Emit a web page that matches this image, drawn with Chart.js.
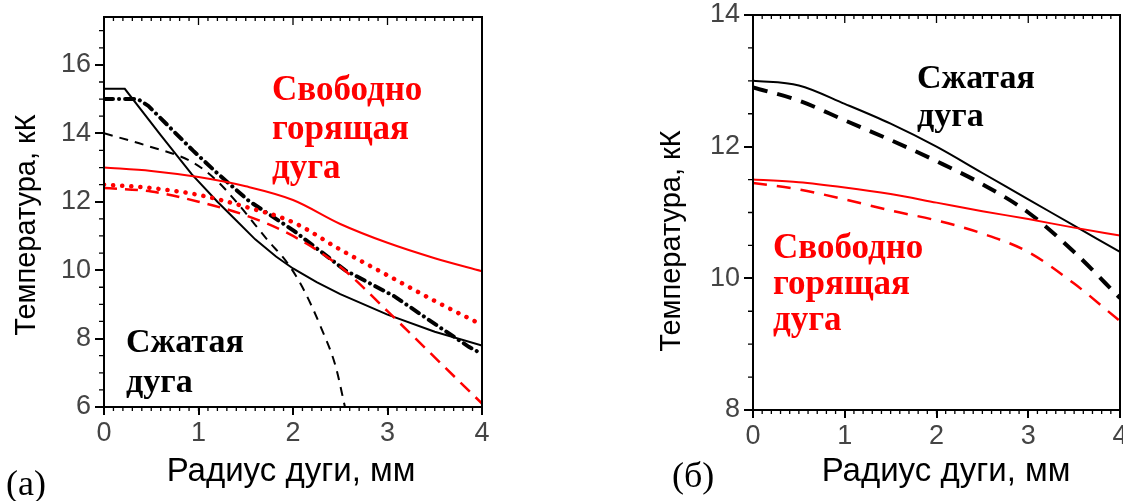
<!DOCTYPE html>
<html>
<head>
<meta charset="utf-8">
<script src="https://cdn.jsdelivr.net/npm/chart.js@4.4.1/dist/chart.umd.min.js"></script>
<style>
  html, body { margin: 0; padding: 0; background: #fff; }
  body { width: 1123px; height: 501px; position: relative; overflow: hidden; }
  .panel { position: absolute; top: 0; height: 501px; }
  #panelA { left: 0; width: 500px; }
  #panelB { left: 640px; width: 483px; }
</style>
</head>
<body>
<div class="panel" id="panelA"><canvas id="chartA"></canvas></div>
<div class="panel" id="panelB"><canvas id="chartB"></canvas></div>
<script>
// tick labels
const xTicks = [0, 1, 2, 3, 4];
const yTicksA = [6, 8, 10, 12, 14, 16];
const yTicksB = [8, 10, 12, 14];

// panel (a): radius, mm / temperature, kK
const xStep = [0, 0.5, 1, 1.5, 2, 2.5, 3, 3.5, 4];
const xBlackSolidA = [0, 0.22, 0.6, 0.93, 1.2, 1.4, 1.6, 1.82, 2.0, 2.25, 2.5, 3, 3.5, 4];
const tBlackSolidA = [15.3, 15.3, 13.95, 12.8, 12.0, 11.45, 10.9, 10.4, 10.05, 9.65, 9.3, 8.7, 8.2, 7.8];
const xBlackDashDotA = [0, 0.36, 0.47, 0.94, 1.18, 1.53, 2.01, 2.55, 3.07, 3.43, 3.86, 4];
const tBlackDashDotA = [15.0, 15.0, 14.8, 13.5, 12.88, 12.03, 11.15, 10.0, 9.24, 8.56, 7.76, 7.55];
const xBlackDashA = [0, 0.44, 0.94, 1.2, 1.43, 1.74, 1.93, 2.1, 2.3, 2.45, 2.55];
const tBlackDashA = [14.0, 13.65, 13.15, 12.6, 11.9, 10.85, 10.25, 9.5, 8.3, 7.2, 6.0];
const tRedSolidA = [13.0, 12.9, 12.72, 12.45, 12.05, 11.35, 10.8, 10.35, 9.97];
const tRedDotA = [12.5, 12.4, 12.2, 11.85, 11.4, 10.6, 9.85, 9.1, 8.4];
const tRedDashA = [12.4, 12.3, 12.0, 11.6, 11.0, 10.1, 8.8, 7.45, 6.1];

// panel (б)
const tBlackSolidB = [13.0, 12.93, 12.65, 12.35, 12.0, 11.6, 11.2, 10.8, 10.4];
const tBlackDashB = [12.9, 12.7, 12.4, 12.1, 11.78, 11.43, 11.0, 10.4, 9.7];
const tRedSolidB = [11.5, 11.46, 11.38, 11.28, 11.15, 11.02, 10.9, 10.77, 10.65];
const tRedDashB = [11.45, 11.35, 11.2, 11.03, 10.88, 10.68, 10.4, 9.92, 9.35];

const xTitle = 'Радиус дуги, мм';
const yTitle = 'Температура, кК';

function pts(xs, ys) {
    return xs.map((x, i) => ({ x: x, y: ys[i] }));
}

function line(xs, ys, color, width, dash, cap, straight) {
    return {
        data: pts(xs, ys),
        borderColor: color,
        borderWidth: width,
        borderDash: dash || [],
        borderCapStyle: cap || 'butt',
        pointRadius: 0,
        fill: false,
        tension: 0,
        cubicInterpolationMode: straight ? 'default' : 'monotone'
    };
}

// frame, minor ticks and texts
const framePlugin = {
    id: 'frame',
    afterDraw(chart, args, opts) {
        const { ctx, chartArea: a, scales: { x, y } } = chart;
        ctx.save();
        ctx.strokeStyle = '#000';
        ctx.lineWidth = 2;
        ctx.strokeRect(a.left, a.top, a.right - a.left, a.bottom - a.top);

        ctx.lineWidth = 1.3;
        ctx.beginPath();
        for (let i = 0; i <= Math.round((x.max - x.min) / 0.1); i++) {
            const v = x.min + i * 0.1;
            const px = x.getPixelForValue(v);
            const major = i % 10 === 0;
            ctx.moveTo(px, a.bottom);
            ctx.lineTo(px, a.bottom + 4);
            ctx.moveTo(px, a.top);
            ctx.lineTo(px, a.top + (major ? 8 : 4));
        }
        for (let v = y.min; v <= y.max + 1e-9; v += 0.5) {
            const py = y.getPixelForValue(v);
            ctx.moveTo(a.left - 5, py);
            ctx.lineTo(a.left, py);
        }
        ctx.stroke();

        // axis titles
        ctx.fillStyle = '#000';
        ctx.textAlign = 'center';
        ctx.textBaseline = 'alphabetic';
        ctx.font = '33px "Liberation Sans", Arial, sans-serif';
        ctx.fillText(xTitle, opts.xTitle[0], opts.xTitle[1]);
        ctx.font = '29px "Liberation Sans", Arial, sans-serif';
        ctx.save();
        ctx.translate(opts.yTitle[0], opts.yTitle[1]);
        ctx.rotate(-Math.PI / 2);
        ctx.fillText(yTitle, 0, 0);
        ctx.restore();

        // notes
        ctx.textAlign = 'left';
        opts.notes.forEach(n => {
            ctx.fillStyle = n.color;
            ctx.font = n.font;
            n.lines.forEach((t, i) => ctx.fillText(t, n.x, n.y + i * n.step));
        });
        ctx.restore();
    }
};

function makeChart(id, datasets, yMin, yMax, yTicks, box, texts) {
    const tickFont = { family: '"Liberation Sans", Arial, sans-serif', size: 27 };
    return new Chart(document.getElementById(id), {
        type: 'line',
        data: { datasets: datasets },
        options: {
            responsive: true,
            maintainAspectRatio: false,
            animation: false,
            layout: { padding: { top: box.top, right: box.right, bottom: 0, left: 0 } },
            plugins: {
                legend: { display: false },
                tooltip: { enabled: false },
                frame: texts
            },
            scales: {
                x: {
                    type: 'linear',
                    min: 0,
                    max: 4,
                    afterBuildTicks: s => { s.ticks = xTicks.map(v => ({ value: v })); },
                    afterFit: s => { s.height = box.xh; s.paddingLeft = 0; s.paddingRight = 0; },
                    ticks: { font: tickFont, color: '#444', padding: 2, maxRotation: 0, autoSkip: false },
                    grid: { drawOnChartArea: false, tickLength: 8, color: '#000', lineWidth: 2 },
                    border: { display: true, color: '#000', width: 2 }
                },
                y: {
                    type: 'linear',
                    min: yMin,
                    max: yMax,
                    afterBuildTicks: s => { s.ticks = yTicks.map(v => ({ value: v })); },
                    afterFit: s => { s.width = box.yw; s.paddingTop = 0; s.paddingBottom = 0; },
                    ticks: { font: tickFont, color: '#444', padding: 4, autoSkip: false },
                    grid: { drawOnChartArea: false, tickLength: 9, color: '#000', lineWidth: 2 },
                    border: { display: true, color: '#000', width: 2 }
                }
            }
        },
        plugins: [framePlugin]
    });
}

const RED = '#ff0000';
const BLACK = '#000000';
const serifRed = 'bold 35px "Liberation Serif", "Times New Roman", serif';
const serifBlack = 'bold 34px "Liberation Serif", "Times New Roman", serif';
const serifLabel = '36px "Liberation Serif", "Times New Roman", serif';

makeChart('chartA', [
    line(xStep, tRedSolidA, RED, 2),
    line(xStep, tRedDashA, RED, 2.5, [13, 8]),
    line(xStep, tRedDotA, RED, 4.5, [0.1, 9], 'round'),
    line(xBlackDashA, tBlackDashA, BLACK, 2, [9, 7]),
    line(xBlackDashDotA, tBlackDashDotA, BLACK, 4, [9, 6, 0.1, 6], 'round', true),
    line(xBlackSolidA, tBlackSolidA, BLACK, 2, null, null, true)
], 6, 17.4, yTicksA, { top: 17, right: 18, xh: 94, yw: 104 }, {
    xTitle: [291, 481],
    yTitle: [35, 225],
    notes: [
        { lines: ['Свободно', 'горящая', 'дуга'], x: 272, y: 100, step: 39, color: RED, font: serifRed },
        { lines: ['Сжатая', 'дуга'], x: 126, y: 352, step: 40, color: BLACK, font: serifBlack },
        { lines: ['(a)'], x: 6, y: 495, step: 0, color: BLACK, font: serifLabel }
    ]
});

makeChart('chartB', [
    line(xStep, tRedSolidB, RED, 2),
    line(xStep, tRedDashB, RED, 2.5, [14, 10]),
    line(xStep, tBlackDashB, BLACK, 4, [15, 10]),
    line(xStep, tBlackSolidB, BLACK, 2)
], 8, 14, yTicksB, { top: 15, right: 3, xh: 91, yw: 113 }, {
    xTitle: [306, 481],
    yTitle: [40, 241],
    notes: [
        { lines: ['Сжатая', 'дуга'], x: 277, y: 88, step: 38, color: BLACK, font: serifBlack },
        { lines: ['Свободно', 'горящая', 'дуга'], x: 133, y: 258, step: 36, color: RED, font: serifRed },
        { lines: ['(б)'], x: 32, y: 487, step: 0, color: BLACK, font: serifLabel }
    ]
});
</script>
</body>
</html>
